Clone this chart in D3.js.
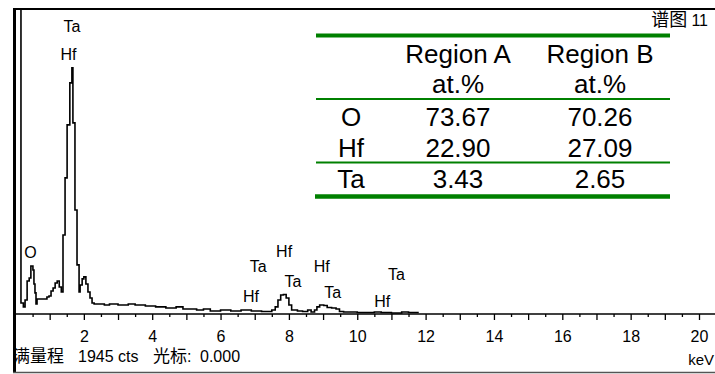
<!DOCTYPE html>
<html>
<head>
<meta charset="utf-8">
<script src="https://cdn.jsdelivr.net/npm/d3@7"></script>
<style>
  body { margin: 0; background: #fff; }
  svg { display: block; font-family: "Liberation Sans", Arial, sans-serif; }
</style>
</head>
<body>
<div id="chart"></div>
<script>
// spectrum (step starts in keV, counts)
const energyKeV = [0.00, 0.16, 0.23, 0.28, 0.34, 0.40, 0.45, 0.51, 0.54, 0.57, 0.60, 0.63,
  0.92, 0.98, 1.04, 1.10, 1.16, 1.22, 1.28, 1.34, 1.39, 1.45, 1.51, 1.59, 1.65, 1.68,
  1.74, 1.80, 1.86, 1.89, 1.95, 2.00, 2.06, 2.12, 2.18, 2.24, 2.30,
  2.60, 2.75, 3.00, 3.30, 3.50, 3.80, 4.10, 4.40, 4.70, 4.90, 5.30, 5.50, 5.70, 6.00,
  6.30, 6.60, 6.90, 7.20, 7.50, 7.60, 7.68, 7.76, 7.84, 7.92, 8.00, 8.08, 8.25, 8.40,
  8.55, 8.65, 8.75, 8.82, 8.90, 9.02, 9.12, 9.25, 9.38, 9.48, 9.60, 10.0, 10.5, 10.7,
  11.0, 11.3, 11.5, 11.8];
const counts = [2600, 70, 45, 89, 210, 229, 305, 280, 191, 134, 64, 95,
  108, 114, 146, 165, 197, 210, 172, 140, 502, 865, 1202, 1469, 1565, 1215,
  661, 312, 140, 184, 223, 236, 191, 140, 102, 70, 64,
  57, 64, 57, 64, 57, 51, 45, 38, 45, 32, 25, 32, 19, 25,
  19, 25, 19, 16, 25, 45, 89, 121, 124, 102, 57, 25, 19, 16,
  25, 13, 25, 45, 57, 54, 41, 38, 32, 16, 13, 10, 13, 10,
  6, 13, 10, 10];

const fullScale = 1945;
const tickKeV = d3.range(1, 21);
const halfTickKeV = d3.range(0.5, 20.5, 1);

// peak labels
const labelText = ["Ta", "Hf", "O", "Hf", "Ta", "Ta", "Hf", "Hf", "Ta", "Hf", "Ta"];
const labelKeV = [1.65, 1.55, 0.44, 7.86, 7.10, 8.12, 6.89, 8.96, 9.28, 10.73, 11.15];
const labelCounts = [1792, 1614, 356, 362, 267, 172, 76, 267, 102, 44, 216];

// quantification table
const tableHead = ["Region A", "Region B"];
const tableUnit = ["at.%", "at.%"];
const elements = ["O", "Hf", "Ta"];
const regionA = ["73.67", "22.90", "3.43"];
const regionB = ["70.26", "27.09", "2.65"];

const W = 715, H = 374;
const green = "#008000";

const svg = d3.select("#chart").append("svg")
  .attr("width", W).attr("height", H);

const x = d3.scaleLinear().domain([0, 20]).range([15.5, 699]);
const y = d3.scaleLinear().domain([0, fullScale]).range([314, 8]);

svg.append("clipPath").attr("id", "plotClip")
  .append("rect").attr("x", 16).attr("y", 10).attr("width", W - 16).attr("height", 304);

// spectrum
const line = d3.line()
  .x(d => x(d[0]))
  .y(d => y(d[1]))
  .curve(d3.curveStepAfter);

svg.append("path")
  .datum(d3.zip(energyKeV, counts))
  .attr("clip-path", "url(#plotClip)")
  .attr("fill", "none")
  .attr("stroke", "#000")
  .attr("stroke-width", 1.6)
  .attr("d", line);

// frame
svg.append("line").attr("x1", 13).attr("x2", W).attr("y1", 9).attr("y2", 9)
  .attr("stroke", "#000").attr("stroke-width", 2);
svg.append("line").attr("x1", 14.5).attr("x2", 14.5).attr("y1", 8).attr("y2", 373)
  .attr("stroke", "#000").attr("stroke-width", 3);
svg.append("line").attr("x1", 13).attr("x2", W).attr("y1", 372.5).attr("y2", 372.5)
  .attr("stroke", "#555").attr("stroke-width", 1.5);

// x axis
svg.append("line").attr("x1", 16).attr("x2", W).attr("y1", 314).attr("y2", 314)
  .attr("stroke", "#000").attr("stroke-width", 1.5);

const minorAxis = d3.axisBottom(x).tickValues(halfTickKeV).tickSize(3).tickFormat("");
svg.append("g").attr("transform", "translate(0,314)").call(minorAxis)
  .call(g => g.select(".domain").remove())
  .call(g => g.selectAll("line").attr("stroke-width", 1.3));

const majorAxis = d3.axisBottom(x).tickValues(tickKeV).tickSize(6)
  .tickPadding(11)
  .tickFormat(d => d % 2 === 0 ? d : "");
svg.append("g").attr("transform", "translate(0,314)").call(majorAxis)
  .call(g => g.select(".domain").remove())
  .call(g => g.selectAll("line").attr("stroke-width", 1.3))
  .call(g => g.selectAll("text")
    .attr("font-family", "Liberation Sans, Arial, sans-serif")
    .attr("font-size", 16).attr("fill", "#000"));

svg.append("text").attr("x", 714).attr("y", 365)
  .attr("text-anchor", "end").attr("font-size", 15).text("keV");

const status = svg.append("text").attr("y", 362).attr("font-size", 16);
status.append("tspan").attr("x", 13).attr("font-size", 17)
  .attr("font-family", "Noto Sans CJK SC").text("满量程");
status.append("tspan").attr("x", 78).text("1945");
status.append("tspan").attr("x", 118).text("cts");
status.append("tspan").attr("x", 153).attr("font-size", 17)
  .attr("font-family", "Noto Sans CJK SC").text("光标");
status.append("tspan").text(":");
status.append("tspan").attr("x", 200).text("0.000");

svg.append("text").attr("x", 708).attr("y", 26)
  .attr("text-anchor", "end").attr("font-size", 16)
  .call(t => t.append("tspan").attr("font-family", "Noto Sans CJK SC").attr("font-size", 18).text("谱图 "))
  .call(t => t.append("tspan").text("11"));

// peak labels
svg.selectAll("text.peak")
  .data(d3.zip(labelText, labelKeV, labelCounts))
  .join("text")
  .attr("class", "peak")
  .attr("x", d => x(d[1]))
  .attr("y", d => y(d[2]))
  .attr("text-anchor", "middle")
  .attr("font-size", 16)
  .text(d => d[0]);

// table
const tbl = svg.append("g").attr("font-size", 26).attr("text-anchor", "middle");
const colX = [351, 458, 600];
const rowY = d3.scaleLinear().domain([0, 2]).range([126, 188]);

tbl.append("line").attr("x1", 316).attr("x2", 670).attr("y1", 35.5).attr("y2", 35.5)
  .attr("stroke", green).attr("stroke-width", 4);
tbl.append("line").attr("x1", 316).attr("x2", 670).attr("y1", 99).attr("y2", 99)
  .attr("stroke", green).attr("stroke-width", 2.2);
tbl.append("line").attr("x1", 316).attr("x2", 670).attr("y1", 162.5).attr("y2", 162.5)
  .attr("stroke", green).attr("stroke-width", 2.2);
tbl.append("line").attr("x1", 315).attr("x2", 670).attr("y1", 196.5).attr("y2", 196.5)
  .attr("stroke", green).attr("stroke-width", 4.5);

tableHead.forEach((h, i) => {
  tbl.append("text").attr("x", colX[i + 1]).attr("y", 63).text(h);
  tbl.append("text").attr("x", colX[i + 1]).attr("y", 93).text(tableUnit[i]);
});
elements.forEach((el, i) => {
  tbl.append("text").attr("x", colX[0]).attr("y", rowY(i)).text(el);
  tbl.append("text").attr("x", colX[1]).attr("y", rowY(i)).text(regionA[i]);
  tbl.append("text").attr("x", colX[2]).attr("y", rowY(i)).text(regionB[i]);
});
</script>
</body>
</html>
